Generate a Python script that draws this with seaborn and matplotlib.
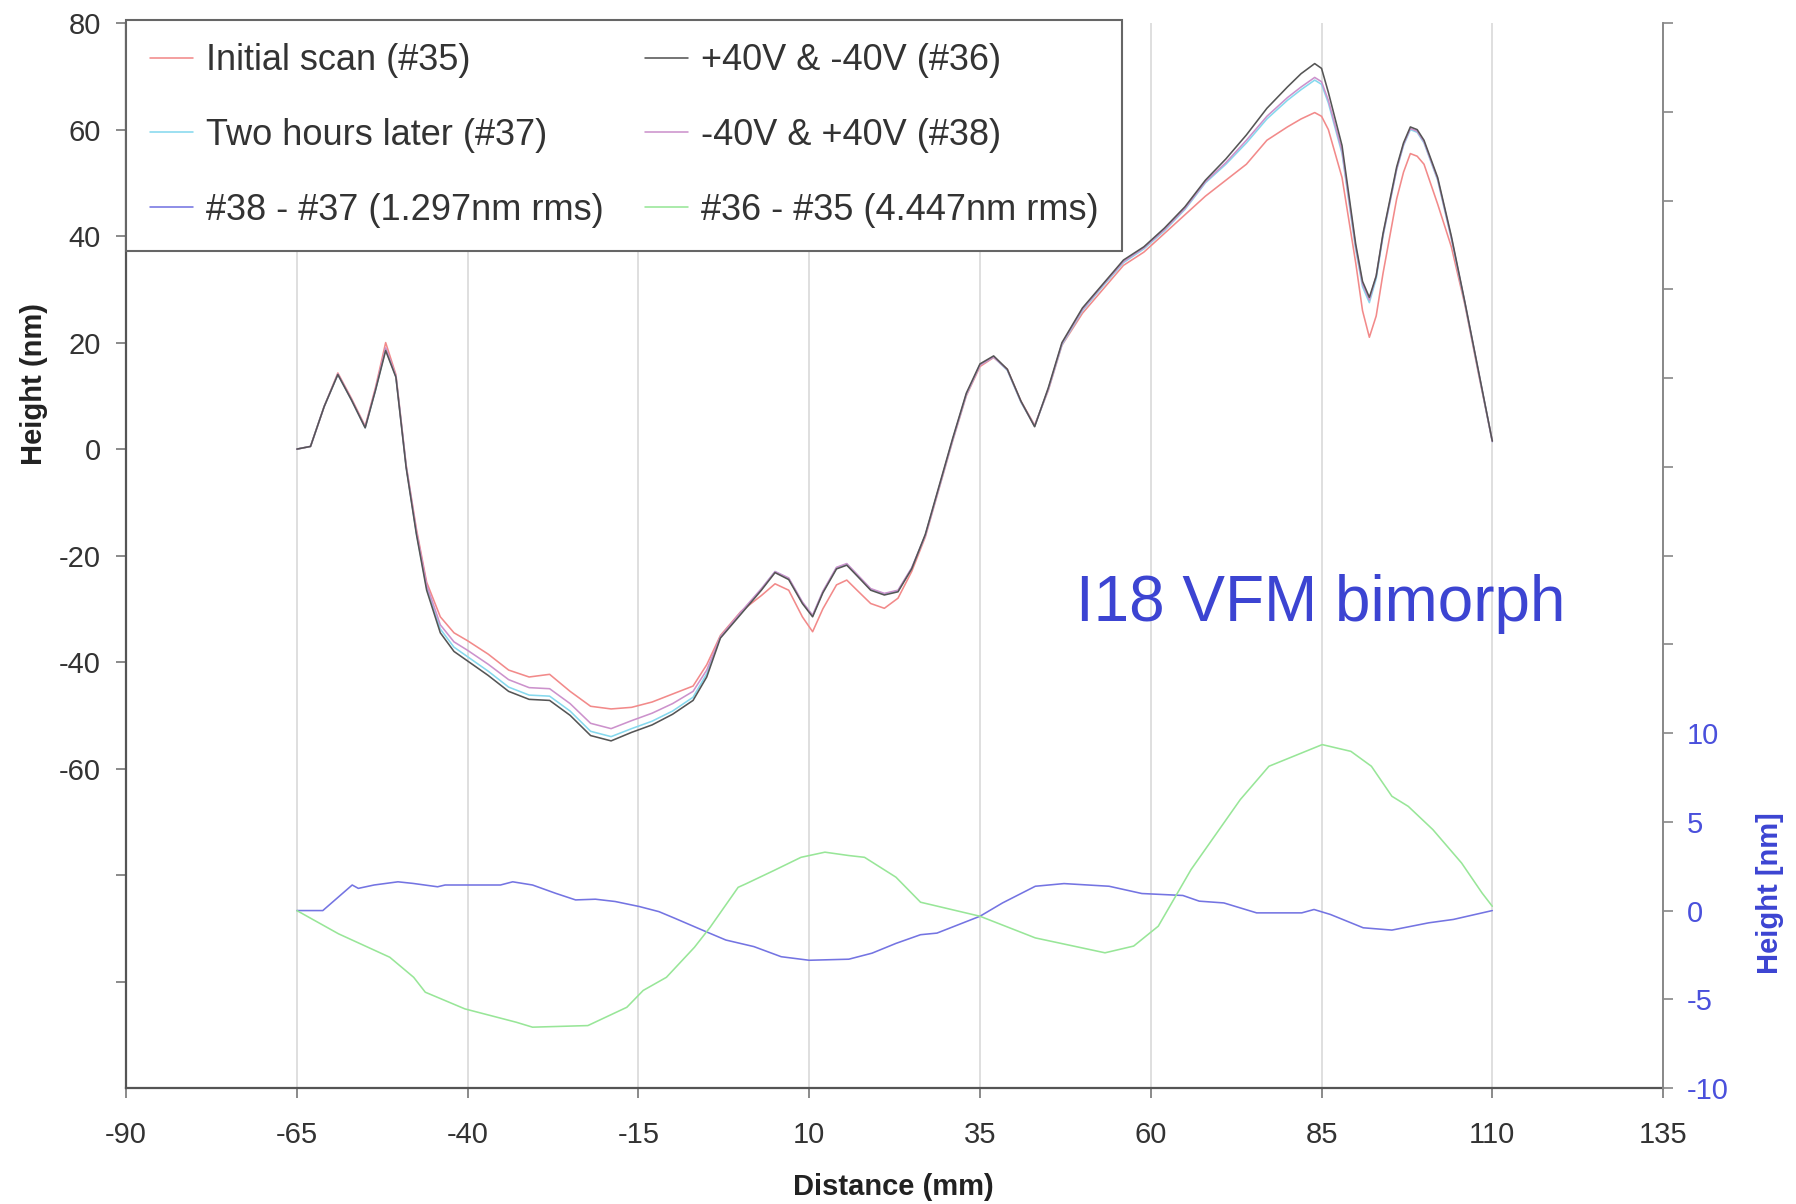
import matplotlib
matplotlib.use("Agg")
import matplotlib.pyplot as plt
import seaborn as sns

# distance along the mirror (mm) for the four height scans
dist = [-65, -63, -61, -59, -57, -55, -53.5, -52, -50.5, -49, -47.5, -46,
        -44, -42, -40, -37, -34, -31, -28, -25, -22, -19, -16, -13,
        -10, -7, -5, -3, 0, 3, 5, 7, 9, 10.5, 12, 14,
        15.5, 17, 19, 21, 23, 25, 27, 29, 31, 33, 35, 37,
        39, 41, 43, 45, 47, 50, 53, 56, 59, 62, 65, 68,
        71, 74, 77, 80, 82, 84, 85, 86, 88, 90, 91, 92, 93, 94, 96,
        97, 98, 99, 100, 102, 104, 106, 108, 110]

scan35 = [0, 0.5, 8, 14.3, 9.5, 4.3, 11.5, 20, 14, -3, -15, -25,
          -31.5, -34.5, -36, -38.5, -41.5, -42.8, -42.3, -45.5, -48.3, -48.8, -48.5, -47.5,
          -46, -44.5, -40.5, -35, -30.5, -27.5, -25.3, -26.5, -31.5, -34.3, -30, -25.5,
          -24.6, -26.5, -29, -29.9, -28, -23, -16.5, -7.5, 1.5, 10, 15.5, 17.2,
          15, 9, 4.5, 11, 19.5, 25.5, 30, 34.5, 37, 40.5, 44, 47.5,
          50.5, 53.5, 58, 60.5, 62, 63.2, 62.5, 60, 51, 35, 26, 21, 25, 33, 47,
          52, 55.5, 55, 53.5, 46, 38, 27, 14, 1.5]

scan36 = [0, 0.5, 8, 14, 9.2, 4, 11, 18.5, 13.5, -3.5, -16, -26.5,
          -34.5, -38, -39.8, -42.5, -45.5, -47, -47.2, -50, -53.8, -54.8, -53.2, -51.8,
          -49.8, -47.2, -42.8, -35.5, -31, -26.5, -23.2, -24.5, -29, -31.5, -27, -22.5,
          -21.8, -23.8, -26.5, -27.4, -26.8, -22.5, -16, -7, 2, 10.5, 16, 17.5,
          15, 9, 4.2, 11.5, 20, 26.5, 31, 35.5, 38, 41.5, 45.5, 50.5,
          54.5, 59, 64, 68, 70.5, 72.4, 71.5, 67, 57, 38.5, 31.5, 28.5, 32.5, 40.5, 53,
          57.5, 60.5, 60, 58, 51, 40, 27.5, 14.5, 1.5]

scan37 = [0, 0.5, 8, 14, 9.2, 4, 11, 18.8, 13.6, -3.3, -15.8, -26,
          -33.8, -37.2, -39, -41.7, -44.7, -46.2, -46.4, -49.2, -53, -54, -52.5, -51.1,
          -49.2, -46.6, -42.2, -35.3, -30.8, -26.3, -23, -24.3, -28.8, -31.3, -26.8, -22.3,
          -21.6, -23.6, -26.3, -27.2, -26.6, -22.4, -16.2, -7.3, 1.7, 10.2, 15.8, 17.3,
          14.8, 8.8, 4.3, 11.2, 19.6, 26, 30.6, 35, 37.6, 41, 45, 50,
          53.5, 57.5, 62, 65.5, 67.5, 69.3, 68.5, 65, 55.5, 37.5, 30.5, 27.5, 32, 40, 52.5,
          57, 60, 59.5, 57.5, 50.5, 39.5, 27.3, 14.3, 1.4]

scan38 = [0, 0.5, 8, 14.1, 9.3, 4.1, 11.2, 19, 13.7, -3.2, -15.5, -25.5,
          -33, -36.2, -37.8, -40.4, -43.3, -44.8, -45, -47.8, -51.5, -52.5, -51, -49.6,
          -47.8, -45.5, -41.5, -35.3, -30.6, -26.2, -23, -24.2, -28.7, -31.2, -26.7, -22.2,
          -21.5, -23.5, -26.2, -27.1, -26.5, -22.3, -16.2, -7.2, 1.8, 10.3, 15.8, 17.3,
          14.9, 8.9, 4.3, 11.3, 19.8, 26.2, 30.8, 35.2, 37.8, 41.2, 45.2, 50.2,
          53.8, 58, 62.5, 66, 68, 69.8, 69, 65.5, 56, 38, 31, 28, 32.5, 40.2, 52.6,
          57.2, 60.2, 59.7, 57.7, 50.7, 39.7, 27.4, 14.4, 1.4]

# difference traces, right axis
d3837_x = [-65, -61.2, -56.9, -56.0, -53.7, -50.2, -48.0, -44.4, -43.3, -35.2,
           -33.4, -30.5, -27.1, -24.2, -21.3, -18.4, -14.9, -12.0, -9.7, -5.1,
           -2.2, 1.9, 5.9, 10.0, 15.8, 19.2, 22.7, 26.3, 28.7, 35.0,
           38.3, 43.1, 47.3, 53.9, 58.7, 64.7, 67.1, 70.7, 75.5, 82.1,
           83.9, 86.3, 91.1, 95.3, 100.7, 104.3, 110]
d3837 = [0, 0, 1.44, 1.25, 1.44, 1.62, 1.53, 1.34, 1.44, 1.44,
         1.62, 1.44, 0.97, 0.6, 0.64, 0.51, 0.23, -0.06, -0.43, -1.19,
         -1.66, -2.03, -2.6, -2.8, -2.74, -2.4, -1.85, -1.36, -1.27, -0.32,
         0.43, 1.37, 1.52, 1.37, 0.96, 0.85, 0.53, 0.43, -0.13, -0.13,
         0.06, -0.22, -0.97, -1.1, -0.69, -0.5, 0]

d3635_x = [-65, -58.9, -51.4, -47.9, -46.2, -40.4, -32.9, -30.5, -22.4, -16.7,
           -14.3, -10.9, -6.8, -4.5, -0.4, 0.7, 4.8, 8.8, 12.3, 15.8,
           18.1, 22.7, 26.3, 35.0, 43.1, 53.3, 57.5, 61.1, 65.9, 73.1,
           77.3, 85.1, 89.3, 92.3, 95.3, 97.7, 101.3, 105.5, 108.5, 110]
d3635 = [0, -1.31, -2.63, -3.76, -4.6, -5.54, -6.29, -6.57, -6.48, -5.45,
         -4.5, -3.76, -2.07, -0.94, 1.31, 1.5, 2.25, 3.0, 3.29, 3.1,
         3.0, 1.88, 0.47, -0.32, -1.54, -2.38, -2.0, -0.88, 2.31, 6.25,
         8.13, 9.35, 8.97, 8.13, 6.44, 5.87, 4.56, 2.68, 0.99, 0.24]

lbl35 = "Initial scan (#35)"
lbl36 = "+40V & -40V (#36)"
lbl37 = "Two hours later (#37)"
lbl38 = "-40V & +40V (#38)"
lbl_d1 = "#38 - #37 (1.297nm rms)"
lbl_d2 = "#36 - #35 (4.447nm rms)"

sns.set_style("ticks")
plt.rcParams["font.family"] = ["Liberation Sans", "DejaVu Sans"]
plt.rcParams["axes.unicode_minus"] = False

blue = "#3c44d2"
fig = plt.figure(figsize=(17.96, 12.04), dpi=100)
ax = fig.add_axes([0.0702, 0.0963, 0.8558, 0.8845])
ax2 = ax.twinx()

lw = 1.15
common = dict(sort=False, estimator=None, legend=False, lw=lw)
sns.lineplot(x=dist, y=scan35, ax=ax, color="#f28a8a", label=lbl35, **common)
sns.lineplot(x=dist, y=scan37, ax=ax, color="#86d9ee", label=lbl37, **common)
sns.lineplot(x=dist, y=scan38, ax=ax, color="#cc92cc", label=lbl38, **common)
sns.lineplot(x=dist, y=scan36, ax=ax, color="#555555", label=lbl36, **common)
sns.lineplot(x=d3837_x, y=d3837, ax=ax2, color="#7474e2", label=lbl_d1, **common)
sns.lineplot(x=d3635_x, y=d3635, ax=ax2, color="#98e698", label=lbl_d2, **common)

# left axis
ax.set_xlim(-90, 135)
ax.set_ylim(-120, 80)
ax.set_xticks(range(-90, 136, 25))
yt = list(range(-100, 81, 20))
ax.set_yticks(yt)
ax.set_yticklabels([str(v) if v >= -60 else "" for v in yt])
ax.grid(axis="x", color="#dcdcdc", lw=1.3)
ax.grid(axis="y", visible=False)
ax.tick_params(axis="both", direction="out", length=7, width=1.2, color="#777777",
               labelsize=21, labelcolor="#333333")
ax.tick_params(axis="y", pad=11)
ax.tick_params(axis="x", pad=17)
for s in ["top", "right"]:
    ax.spines[s].set_visible(False)
for s in ["left", "bottom"]:
    ax.spines[s].set_color("#555555")
    ax.spines[s].set_linewidth(1.6)
ax.set_xlabel("Distance (mm)", fontsize=21, fontweight="bold", color="#222222", va="center")
ax.set_ylabel("Height (nm)", fontsize=21, fontweight="bold", color="#222222", va="center")
ax.xaxis.set_label_coords(0.499, -0.093)
ax.yaxis.set_label_coords(-0.0596, 0.661)

# right axis
ax2.set_ylim(-10, 50)
rt = list(range(-10, 51, 5))
ax2.set_yticks(rt)
ax2.set_yticklabels([str(v) if v <= 10 else "" for v in rt])
ax2.tick_params(axis="y", direction="out", length=7, width=1.2, color="#888888",
                labelsize=21, labelcolor="#4a50dc", pad=10)
for s in ["top", "left", "bottom"]:
    ax2.spines[s].set_visible(False)
ax2.spines["right"].set_color("#888888")
ax2.spines["right"].set_linewidth(1.4)
ax2.set_ylabel("Height [nm]", fontsize=21, fontweight="bold", color=blue, va="center")
ax2.yaxis.set_label_coords(1.0696, 0.183)

ax2.text(49, -29, "I18 VFM bimorph", transform=ax.transData, color=blue,
         fontsize=46, ha="left", va="center")

# legend: column-major 2 x 3 like the original
h1, l1 = ax.get_legend_handles_labels()
h2, l2 = ax2.get_legend_handles_labels()
lookup = dict(zip(l1 + l2, h1 + h2))
order = [lbl35, lbl37, lbl_d1, lbl36, lbl38, lbl_d2]
leg = ax2.legend([lookup[k] for k in order], order, ncol=2, loc="upper left",
                 bbox_to_anchor=(0.0, 1.003), borderaxespad=0, fontsize=26,
                 handlelength=1.2, handletextpad=0.35, columnspacing=1.15,
                 labelspacing=1.1, borderpad=0.65, fancybox=False, framealpha=1)
leg.get_frame().set_edgecolor("#666666")
leg.get_frame().set_linewidth(1.5)
for t in leg.get_texts():
    t.set_color("#333333")

fig.savefig("out.png", dpi=100, facecolor="white")
